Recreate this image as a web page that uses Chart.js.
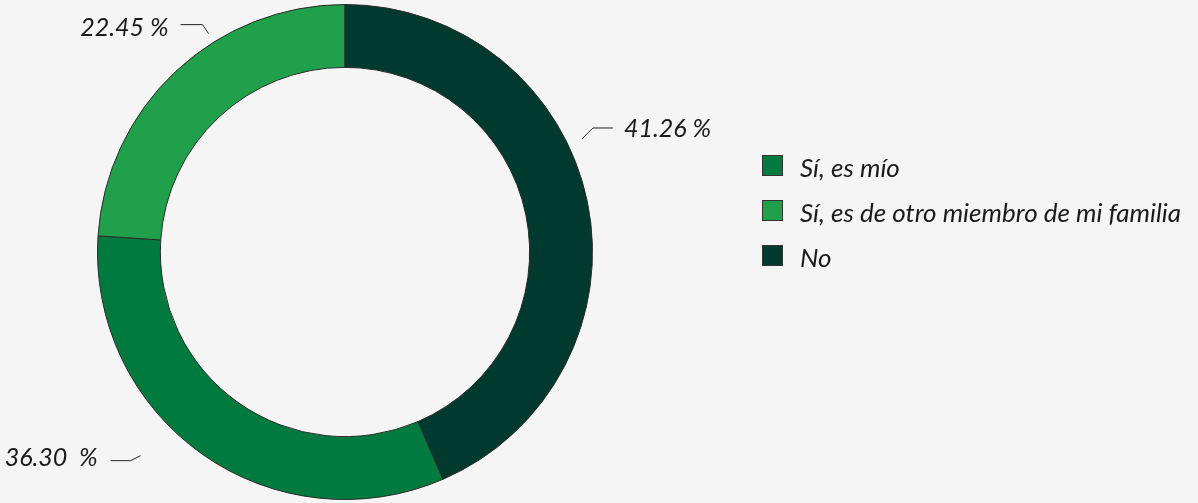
<!DOCTYPE html>
<html>
<head>
<meta charset="utf-8">
<script src="https://cdn.jsdelivr.net/npm/chart.js@4"></script>
<style>
  html, body { margin: 0; padding: 0; background: #f5f5f5; }
  #wrap { width: 1198px; height: 503px; position: relative; }
</style>
</head>
<body>
<div id="wrap"><canvas id="chart" width="1198" height="503"></canvas></div>
<script>
// Chart data
const categories = ['Sí, es mío', 'Sí, es de otro miembro de mi familia', 'No'];
// slice sizes as drawn in the picture (degrees of the ring, in percent)
const sliceValues = [32.52, 23.96, 43.52];
// printed labels
const valueLabels = ['36.30  %', '22.45 %', '41.26 %'];
const colors = ['#007a3e', '#21a04b', '#003a2f'];

const LEGEND_FONT = 'italic 26px Lato, "Open Sans", sans-serif';
const LABEL_FONT = 'italic 25px Lato, "Open Sans", sans-serif';

// leader line layout for each label (angle in degrees from top, radius offset from outer edge)
const leaderLayout = [
  { angle: 225.1, dr: 41, elbow: [-10, 5], len: 20, side: 'left', gap: 13, dy: 5 },
  { angle: 328, dr: 10, elbow: [-6, -9], len: 22, side: 'left', gap: 12, dy: 11 },
  { angle: 64.5, dr: 15, elbow: [11, -11], len: 20, side: 'right', gap: 11, dy: 9 }
];

// Outside labels with leader lines
const leaderLabels = {
  id: 'leaderLabels',
  afterDatasetsDraw(chart) {
    const ctx = chart.ctx;
    const meta = chart.getDatasetMeta(0);
    ctx.save();
    ctx.strokeStyle = '#222';
    ctx.lineWidth = 1;
    ctx.fillStyle = '#1a1a1a';
    ctx.font = LABEL_FONT;
    ctx.textBaseline = 'alphabetic';
    meta.data.forEach((arc, i) => {
      const lay = leaderLayout[i];
      const a = lay.angle * Math.PI / 180;
      const r = arc.outerRadius + lay.dr;
      const sx = arc.x + r * Math.sin(a);
      const sy = arc.y - r * Math.cos(a);
      const ex = sx + lay.elbow[0];
      const ey = sy + lay.elbow[1];
      const dir = lay.side === 'left' ? -1 : 1;
      const tx = ex + dir * lay.len;
      ctx.beginPath();
      ctx.moveTo(sx, sy);
      ctx.lineTo(ex, ey);
      ctx.lineTo(tx, ey);
      ctx.stroke();
      ctx.textAlign = lay.side === 'left' ? 'right' : 'left';
      ctx.fillText(valueLabels[i], tx + dir * lay.gap, ey + lay.dy);
    });
    ctx.restore();
  }
};

// Legend on the right
const sideLegend = {
  id: 'sideLegend',
  afterDraw(chart) {
    const ctx = chart.ctx;
    const x0 = 762, y0 = 155, step = 45, box = 21;
    ctx.save();
    ctx.font = LEGEND_FONT;
    ctx.textAlign = 'left';
    ctx.textBaseline = 'alphabetic';
    categories.forEach((name, i) => {
      const y = y0 + i * step;
      ctx.fillStyle = colors[i];
      ctx.fillRect(x0, y, box, box);
      ctx.strokeStyle = '#333';
      ctx.lineWidth = 1;
      ctx.strokeRect(x0 + 0.5, y + 0.5, box - 1, box - 1);
      ctx.fillStyle = '#1a1a1a';
      ctx.fillText(name, 800, y + 22);
    });
    ctx.restore();
  }
};

new Chart(document.getElementById('chart'), {
  type: 'doughnut',
  data: {
    labels: categories,
    datasets: [{
      data: sliceValues,
      backgroundColor: colors,
      borderColor: '#2a2a2a',
      borderWidth: 1
    }]
  },
  options: {
    responsive: false,
    animation: false,
    cutout: '74.6%',
    rotation: sliceValues[2] / 100 * 360,
    layout: { padding: { top: 4, bottom: 3, left: 97, right: 605 } },
    plugins: {
      legend: { display: false },
      tooltip: { enabled: false }
    }
  },
  plugins: [leaderLabels, sideLegend]
});
</script>
</body>
</html>
